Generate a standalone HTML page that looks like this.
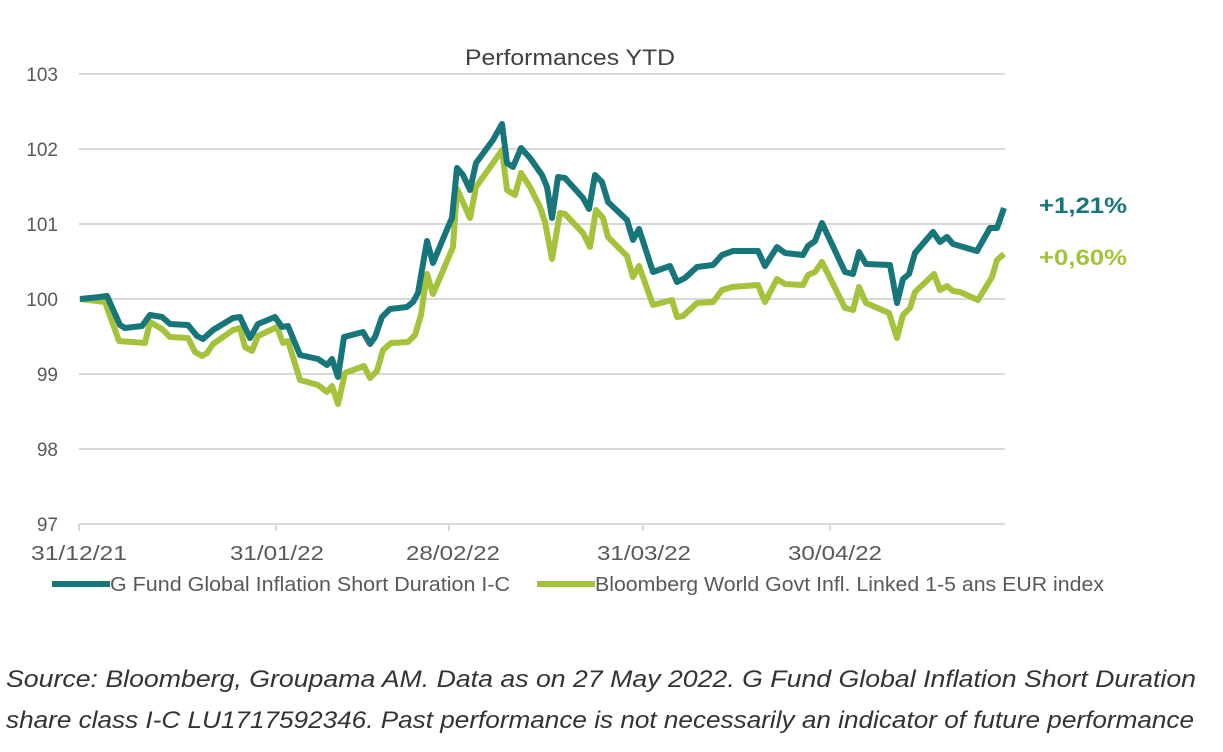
<!DOCTYPE html>
<html><head><meta charset="utf-8"><style>
body{margin:0;background:#fff;width:1223px;height:747px;overflow:hidden;font-family:"Liberation Sans",Calibri,sans-serif}
</style></head><body>
<svg width="1223" height="747" xmlns="http://www.w3.org/2000/svg" font-family="Liberation Sans, sans-serif">
<text x="465" y="65" font-size="22" fill="#404040" textLength="210" lengthAdjust="spacingAndGlyphs">Performances YTD</text>
<g stroke="#d9d9d9" stroke-width="2">
<line x1="79" y1="74" x2="1005" y2="74"/><line x1="79" y1="149" x2="1005" y2="149"/><line x1="79" y1="224" x2="1005" y2="224"/><line x1="79" y1="299" x2="1005" y2="299"/><line x1="79" y1="374" x2="1005" y2="374"/><line x1="79" y1="449" x2="1005" y2="449"/><line x1="79" y1="524" x2="1005" y2="524"/>
<line x1="79" y1="524" x2="79" y2="531"/><line x1="276" y1="524" x2="276" y2="531"/><line x1="449" y1="524" x2="449" y2="531"/><line x1="643" y1="524" x2="643" y2="531"/><line x1="830" y1="524" x2="830" y2="531"/>
</g>
<g font-size="19" fill="#595959" text-anchor="end">
<text x="58" y="81">103</text><text x="58" y="156">102</text><text x="58" y="231">101</text><text x="58" y="306">100</text><text x="58" y="381">99</text><text x="58" y="456">98</text><text x="58" y="531">97</text>
</g>
<g font-size="20" fill="#595959">
<text x="31" y="560" textLength="96" lengthAdjust="spacingAndGlyphs">31/12/21</text><text x="230" y="560" textLength="94" lengthAdjust="spacingAndGlyphs">31/01/22</text><text x="406" y="560" textLength="94" lengthAdjust="spacingAndGlyphs">28/02/22</text><text x="597" y="560" textLength="94" lengthAdjust="spacingAndGlyphs">31/03/22</text><text x="788" y="560" textLength="94" lengthAdjust="spacingAndGlyphs">30/04/22</text>
</g>
<polyline fill="none" stroke="#A4C23A" stroke-width="6" stroke-linejoin="round" points="80,299 105,302 119,341 145,343 150,322 162,329 170,337 188,338 195,352 202,356 207,353 213,344 233,330 240,328 245,347 252,351 258,336 277,327 283,343 288,341 300,380 318,385 327,392 332,386 338,404 345,373 364,366 370,378 377,371 383,350 391,343 408,342 415,335 421,315 427,274 433,294 453,247 457,189 470,218 476,187 493,163 502,150 507,190 515,195 521,173 530,187 540,207 545,222 552,259 560,213 565,214 583,233 590,247 596,210 603,218 608,237 627,256 633,277 639,266 653,305 672,300 677,317 683,316 697,303 713,302 722,290 732,287 758,285 765,302 777,279 785,284 803,285 808,275 815,272 822,262 845,308 853,310 859,287 866,303 889,313 897,338 903,315 910,308 915,292 934,274 940,290 947,286 953,291 960,292 978,300 992,277 997,260 1004,254"/>
<polyline fill="none" stroke="#17767A" stroke-width="6" stroke-linejoin="round" points="80,299 100,297 107,296 120,325 125,328 142,326 150,315 162,317 170,324 188,325 197,336 203,339 213,330 233,318 240,317 250,338 258,324 275,317 282,327 288,326 300,355 318,359 327,365 332,359 338,377 344,337 363,332 370,344 375,337 382,317 390,309 407,307 413,302 418,293 427,241 433,263 448,227 452,218 457,168 463,175 470,190 476,163 493,140 502,124 507,163 513,167 521,148 530,158 542,175 547,187 552,218 558,177 565,178 583,198 589,209 595,175 602,182 608,202 627,220 633,240 639,229 653,272 670,266 677,282 685,278 697,267 713,265 722,255 733,251 758,251 765,266 777,247 785,253 803,255 808,246 815,241 822,223 845,272 853,274 859,252 866,264 890,265 897,303 903,279 909,274 915,253 933,232 940,242 947,237 953,244 977,251 990,228 997,228 1004,208"/>
<text x="1039" y="213" font-size="22" font-weight="bold" fill="#17767A" textLength="88" lengthAdjust="spacingAndGlyphs">+1,21%</text>
<text x="1039" y="265" font-size="22" font-weight="bold" fill="#A4C23A" textLength="88" lengthAdjust="spacingAndGlyphs">+0,60%</text>
<line x1="52" y1="584" x2="110" y2="584" stroke="#17767A" stroke-width="6"/>
<text x="110" y="591" font-size="20" fill="#595959" textLength="400" lengthAdjust="spacingAndGlyphs">G Fund Global Inflation Short Duration I-C</text>
<line x1="537" y1="584" x2="595" y2="584" stroke="#A4C23A" stroke-width="6"/>
<text x="595" y="591" font-size="20" fill="#595959" textLength="509" lengthAdjust="spacingAndGlyphs">Bloomberg World Govt Infl. Linked 1-5 ans EUR index</text>
<text x="6" y="687" font-size="24" font-style="italic" fill="#333" textLength="1190" lengthAdjust="spacingAndGlyphs">Source: Bloomberg, Groupama AM. Data as on 27 May 2022. G Fund Global Inflation Short Duration</text>
<text x="6" y="728" font-size="24" font-style="italic" fill="#333" textLength="1188" lengthAdjust="spacingAndGlyphs">share class I-C LU1717592346. Past performance is not necessarily an indicator of future performance</text>
</svg>
</body></html>
